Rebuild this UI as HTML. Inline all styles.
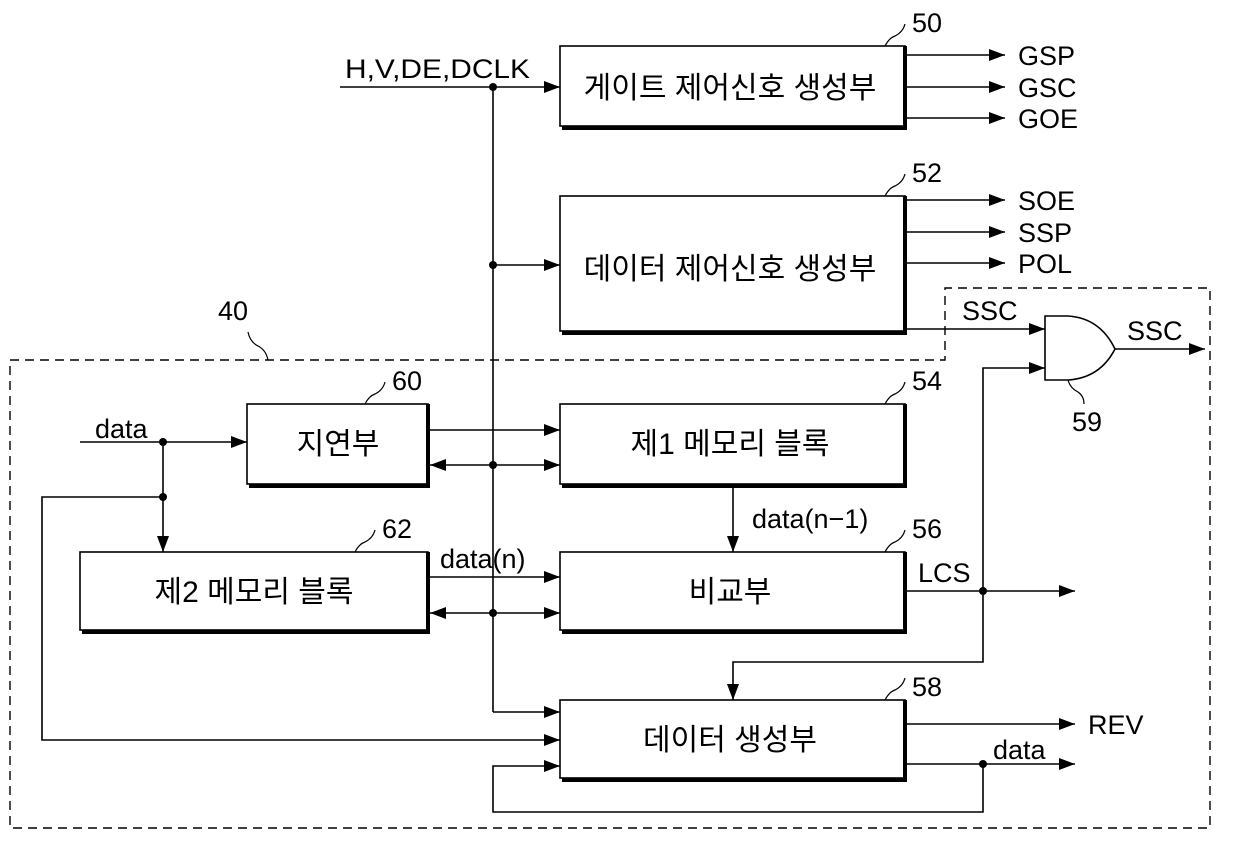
<!DOCTYPE html>
<html><head><meta charset="utf-8"><style>
html,body{margin:0;padding:0;background:#fff;}
svg text{font-family:"Liberation Sans","Noto Sans CJK KR",sans-serif;fill:#000;}
</style></head><body>
<svg width="1240" height="854" viewBox="0 0 1240 854" xmlns="http://www.w3.org/2000/svg">
<defs>
<marker id="a" markerWidth="16" markerHeight="12" refX="16" refY="6" orient="auto" markerUnits="userSpaceOnUse"><path d="M0,0 L16,6 L0,12 z" fill="#000"/></marker>
<marker id="b" markerWidth="16" markerHeight="12" refX="16" refY="6" orient="auto-start-reverse" markerUnits="userSpaceOnUse"><path d="M0,0 L16,6 L0,12 z" fill="#000"/></marker>
</defs>
<g fill="none" stroke="#000" stroke-width="1.6">
<path d="M10,360 H945 V288 H1210 V828 H10 Z" stroke-dasharray="9,6" stroke-width="1.4"/>
</g>
<g fill="#fff" stroke="#000" stroke-width="1.6">
<rect x="560" y="46" width="345" height="80"/>
<rect x="560" y="196" width="345" height="135"/>
<rect x="247" y="404" width="181" height="80"/>
<rect x="560" y="404" width="345" height="80"/>
<rect x="80" y="552" width="348" height="78"/>
<rect x="560" y="552" width="345" height="78"/>
<rect x="560" y="700" width="345" height="78"/>
</g>
<g stroke="#000" stroke-width="4" fill="none">
<path d="M905,46 V128 H562"/>
<path d="M905,196 V333 H562"/>
<path d="M428,404 V486 H249"/>
<path d="M905,404 V486 H562"/>
<path d="M428,552 V632 H82"/>
<path d="M905,552 V632 H562"/>
<path d="M905,700 V780 H562"/>
</g>
<g fill="none" stroke="#000" stroke-width="1.6">
<line x1="340" y1="87" x2="560" y2="87" marker-end="url(#a)"/>
<line x1="493" y1="87" x2="493" y2="712"/>
<line x1="493" y1="265" x2="560" y2="265" marker-end="url(#a)"/>
<line x1="428" y1="430" x2="560" y2="430" marker-end="url(#a)"/>
<line x1="430" y1="465" x2="560" y2="465" marker-start="url(#b)" marker-end="url(#a)"/>
<line x1="428" y1="577" x2="560" y2="577" marker-end="url(#a)"/>
<line x1="430" y1="613" x2="560" y2="613" marker-start="url(#b)" marker-end="url(#a)"/>
<line x1="493" y1="712" x2="560" y2="712" marker-end="url(#a)"/>
<line x1="905" y1="55" x2="1005" y2="55" marker-end="url(#a)"/>
<line x1="905" y1="87" x2="1005" y2="87" marker-end="url(#a)"/>
<line x1="905" y1="118" x2="1005" y2="118" marker-end="url(#a)"/>
<line x1="905" y1="200" x2="1005" y2="200" marker-end="url(#a)"/>
<line x1="905" y1="232" x2="1005" y2="232" marker-end="url(#a)"/>
<line x1="905" y1="263" x2="1005" y2="263" marker-end="url(#a)"/>
<line x1="905" y1="329" x2="1045" y2="329" marker-end="url(#a)"/>
<path d="M983,591 V368 H1045" marker-end="url(#a)"/>
<line x1="1115" y1="349" x2="1205" y2="349" marker-end="url(#a)"/>
<path d="M1045,316 H1068 Q1100,318 1115,349 Q1100,378 1068,380 H1045 Z" fill="#fff"/>
<line x1="905" y1="591" x2="1075" y2="591" marker-end="url(#a)"/>
<path d="M983,591 V662 H733 V700" marker-end="url(#a)"/>
<line x1="733" y1="486" x2="733" y2="552" marker-end="url(#a)"/>
<line x1="80" y1="442" x2="247" y2="442" marker-end="url(#a)"/>
<line x1="163" y1="442" x2="163" y2="552" marker-end="url(#a)"/>
<path d="M163,497 H42 V740 H560" marker-end="url(#a)"/>
<line x1="905" y1="724" x2="1075" y2="724" marker-end="url(#a)"/>
<line x1="905" y1="764" x2="1075" y2="764" marker-end="url(#a)"/>
<path d="M983,764 V812 H493 V766 H560" marker-end="url(#a)"/>
<path d="M885,46 q4,-8 10,-10 q8,-4 10,-12" stroke-width="1.2"/>
<path d="M885,196 q4,-8 10,-10 q8,-4 10,-12" stroke-width="1.2"/>
<path d="M885,404 q4,-8 10,-10 q8,-4 10,-12" stroke-width="1.2"/>
<path d="M885,552 q4,-8 10,-10 q8,-4 10,-12" stroke-width="1.2"/>
<path d="M885,700 q4,-8 10,-10 q8,-4 10,-12" stroke-width="1.2"/>
<path d="M365,404 q4,-8 10,-10 q8,-4 10,-12" stroke-width="1.2"/>
<path d="M355,552 q4,-8 10,-10 q8,-4 10,-12" stroke-width="1.2"/>
<path d="M268,360 q-2,-10 -10,-14 q-8,-4 -10,-14" stroke-width="1.2"/>
<path d="M1068,380 q2,8 10,12 q6,4 6,12" stroke-width="1.2"/>
</g>
<g fill="#000">
<circle cx="493" cy="87" r="4"/><circle cx="493" cy="265" r="4"/>
<circle cx="493" cy="465" r="4"/><circle cx="493" cy="613" r="4"/>
<circle cx="163" cy="442" r="4"/><circle cx="163" cy="497" r="4"/>
<circle cx="983" cy="591" r="4"/><circle cx="983" cy="764" r="4"/>
</g>
<g font-size="30">
<text x="730" y="98" text-anchor="middle">게이트 제어신호 생성부</text>
<text x="730" y="279" text-anchor="middle">데이터 제어신호 생성부</text>
<text x="338" y="454" text-anchor="middle">지연부</text>
<text x="730" y="454" text-anchor="middle">제1 메모리 블록</text>
<text x="254" y="602" text-anchor="middle">제2 메모리 블록</text>
<text x="730" y="602" text-anchor="middle">비교부</text>
<text x="730" y="750" text-anchor="middle">데이터 생성부</text>
</g>
<g font-size="27">
<text x="345" y="78" textLength="185" lengthAdjust="spacingAndGlyphs">H,V,DE,DCLK</text>
<text x="1018" y="65">GSP</text><text x="1018" y="97">GSC</text><text x="1018" y="128">GOE</text>
<text x="1018" y="210">SOE</text><text x="1018" y="242">SSP</text><text x="1018" y="273">POL</text>
<text x="962" y="320">SSC</text><text x="1127" y="340">SSC</text>
<text x="1072" y="431">59</text>
<text x="95" y="438">data</text>
<text x="752" y="528">data(n−1)</text>
<text x="440" y="568">data(n)</text>
<text x="918" y="582">LCS</text>
<text x="1088" y="734">REV</text>
<text x="993" y="759">data</text>
<text x="912" y="32">50</text><text x="912" y="182">52</text>
<text x="912" y="390">54</text><text x="912" y="538">56</text>
<text x="912" y="696">58</text><text x="392" y="390">60</text>
<text x="382" y="538">62</text><text x="218" y="320">40</text>
</g>
</svg>
</body></html>
